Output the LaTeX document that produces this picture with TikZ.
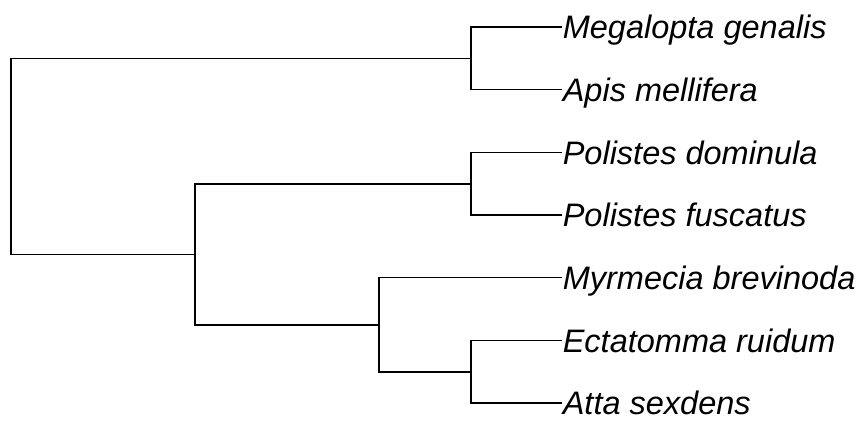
\documentclass[tikz,border=0pt]{standalone}
\usepackage{fontspec}
\setmainfont{Liberation Sans}
\begin{document}
\begin{tikzpicture}[x=1pt, y=-1pt, line width=1.6pt,
    taxon/.style={anchor=base west, inner sep=0pt, yshift=-11.7pt,
                  font=\fontsize{32.5}{39}\selectfont\itshape}]

        % Working area in pixel units (y runs downwards)
        \useasboundingbox (0,0) rectangle (859,421);

        % Tips every 62.67 px, branches end at x = 562
        \foreach \name/\label [count=\i from 0] in {megalopta/Megalopta genalis,
                apis/Apis mellifera, pdominula/Polistes dominula,
                pfuscatus/Polistes fuscatus, myrmecia/Myrmecia brevinoda,
                ectatomma/Ectatomma ruidum, atta/Atta sexdens} {
            \coordinate (\name) at (562, 27+62.67*\i); % tip
            \node[taxon] (lab-\name) at (\name) {\label}; % tip label
        }

        % Inner nodes
        \coordinate (bees) at (471, 58.3);
        \coordinate (wasps) at (471, 184);
        \coordinate (attines) at (471, 371.7);
        \coordinate (ants) at (379, 324.7);
        \coordinate (vespids) at (195, 254.3);
        \coordinate (root) at (11, 156.3);

        % Branches
        \draw (megalopta) -| (bees) |- (apis);
        \draw (pdominula) -| (wasps) |- (pfuscatus);
        \draw (ectatomma) -| (attines) |- (atta);
        \draw (myrmecia) -| (ants) |- (attines);
        \draw (wasps) -| (vespids) |- (ants);
        \draw (bees) -| (root) |- (vespids);

    \end{tikzpicture}
\end{document}
